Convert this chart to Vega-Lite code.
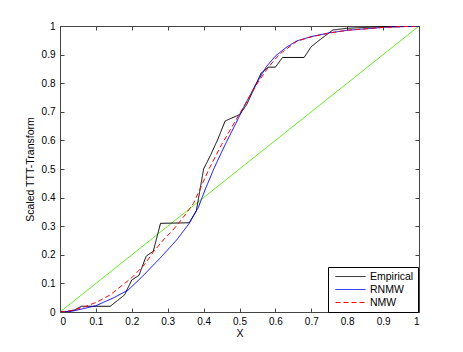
{
  "$schema": "https://vega.github.io/schema/vega-lite/v6.json",
  "width": 359,
  "height": 286,
  "autosize": {"type": "none"},
  "padding": {"left": 60, "top": 26, "right": 44, "bottom": 40},
  "background": "white",
  "config": {
    "font": "Liberation Sans",
    "view": {"stroke": "#444", "strokeWidth": 1},
    "axis": {
      "grid": false,
      "domainColor": "#444",
      "tickColor": "#444",
      "tickSize": -4,
      "labelFont": "Liberation Sans",
      "labelFontSize": 10,
      "labelColor": "#000",
      "titleFont": "Liberation Sans",
      "titleFontSize": 10.5,
      "titleFontWeight": "normal",
      "titleColor": "#000"
    },
    "legend": {
      "labelFont": "Liberation Sans",
      "labelFontSize": 10.5,
      "labelColor": "#000"
    }
  },
  "datasets": {
    "curves": [
      {"series": "Empirical", "x": 0, "y": 0},
      {"series": "Empirical", "x": 0.02, "y": 0.002},
      {"series": "Empirical", "x": 0.04, "y": 0.007},
      {"series": "Empirical", "x": 0.06, "y": 0.02},
      {"series": "Empirical", "x": 0.14, "y": 0.02},
      {"series": "Empirical", "x": 0.16, "y": 0.04},
      {"series": "Empirical", "x": 0.18, "y": 0.06},
      {"series": "Empirical", "x": 0.2, "y": 0.112},
      {"series": "Empirical", "x": 0.22, "y": 0.128},
      {"series": "Empirical", "x": 0.24, "y": 0.195},
      {"series": "Empirical", "x": 0.26, "y": 0.213},
      {"series": "Empirical", "x": 0.28, "y": 0.31},
      {"series": "Empirical", "x": 0.36, "y": 0.312},
      {"series": "Empirical", "x": 0.38, "y": 0.355},
      {"series": "Empirical", "x": 0.4, "y": 0.5},
      {"series": "Empirical", "x": 0.42, "y": 0.55},
      {"series": "Empirical", "x": 0.44, "y": 0.605},
      {"series": "Empirical", "x": 0.46, "y": 0.668},
      {"series": "Empirical", "x": 0.5, "y": 0.69},
      {"series": "Empirical", "x": 0.52, "y": 0.725},
      {"series": "Empirical", "x": 0.56, "y": 0.835},
      {"series": "Empirical", "x": 0.58, "y": 0.856},
      {"series": "Empirical", "x": 0.6, "y": 0.856},
      {"series": "Empirical", "x": 0.62, "y": 0.89},
      {"series": "Empirical", "x": 0.68, "y": 0.89},
      {"series": "Empirical", "x": 0.7, "y": 0.928},
      {"series": "Empirical", "x": 0.72, "y": 0.948},
      {"series": "Empirical", "x": 0.76, "y": 0.986},
      {"series": "Empirical", "x": 0.8, "y": 0.992},
      {"series": "Empirical", "x": 0.85, "y": 0.995},
      {"series": "Empirical", "x": 0.9, "y": 0.998},
      {"series": "Empirical", "x": 1, "y": 1},
      {"series": "RNMW", "x": 0, "y": 0},
      {"series": "RNMW", "x": 0.03, "y": 0.002},
      {"series": "RNMW", "x": 0.07, "y": 0.013},
      {"series": "RNMW", "x": 0.1, "y": 0.022},
      {"series": "RNMW", "x": 0.15, "y": 0.05},
      {"series": "RNMW", "x": 0.19, "y": 0.077},
      {"series": "RNMW", "x": 0.23, "y": 0.125},
      {"series": "RNMW", "x": 0.28, "y": 0.19},
      {"series": "RNMW", "x": 0.325, "y": 0.252},
      {"series": "RNMW", "x": 0.36, "y": 0.31},
      {"series": "RNMW", "x": 0.385, "y": 0.365},
      {"series": "RNMW", "x": 0.405, "y": 0.43},
      {"series": "RNMW", "x": 0.43, "y": 0.505},
      {"series": "RNMW", "x": 0.46, "y": 0.585},
      {"series": "RNMW", "x": 0.49, "y": 0.66},
      {"series": "RNMW", "x": 0.515, "y": 0.724},
      {"series": "RNMW", "x": 0.545, "y": 0.795},
      {"series": "RNMW", "x": 0.575, "y": 0.858},
      {"series": "RNMW", "x": 0.6, "y": 0.895},
      {"series": "RNMW", "x": 0.63, "y": 0.925},
      {"series": "RNMW", "x": 0.66, "y": 0.948},
      {"series": "RNMW", "x": 0.7, "y": 0.963},
      {"series": "RNMW", "x": 0.75, "y": 0.976},
      {"series": "RNMW", "x": 0.8, "y": 0.985},
      {"series": "RNMW", "x": 0.9, "y": 0.995},
      {"series": "RNMW", "x": 1, "y": 1},
      {"series": "NMW", "x": 0, "y": 0},
      {"series": "NMW", "x": 0.02, "y": 0.002},
      {"series": "NMW", "x": 0.045, "y": 0.009},
      {"series": "NMW", "x": 0.075, "y": 0.021},
      {"series": "NMW", "x": 0.105, "y": 0.036},
      {"series": "NMW", "x": 0.14, "y": 0.06},
      {"series": "NMW", "x": 0.17, "y": 0.09},
      {"series": "NMW", "x": 0.2, "y": 0.12},
      {"series": "NMW", "x": 0.235, "y": 0.165},
      {"series": "NMW", "x": 0.26, "y": 0.21},
      {"series": "NMW", "x": 0.29, "y": 0.255},
      {"series": "NMW", "x": 0.31, "y": 0.28},
      {"series": "NMW", "x": 0.33, "y": 0.31},
      {"series": "NMW", "x": 0.353, "y": 0.347},
      {"series": "NMW", "x": 0.372, "y": 0.38},
      {"series": "NMW", "x": 0.39, "y": 0.43},
      {"series": "NMW", "x": 0.415, "y": 0.5},
      {"series": "NMW", "x": 0.45, "y": 0.585},
      {"series": "NMW", "x": 0.485, "y": 0.66},
      {"series": "NMW", "x": 0.515, "y": 0.725},
      {"series": "NMW", "x": 0.55, "y": 0.8},
      {"series": "NMW", "x": 0.58, "y": 0.855},
      {"series": "NMW", "x": 0.61, "y": 0.9},
      {"series": "NMW", "x": 0.66, "y": 0.947},
      {"series": "NMW", "x": 0.7, "y": 0.962},
      {"series": "NMW", "x": 0.75, "y": 0.975},
      {"series": "NMW", "x": 0.8, "y": 0.985},
      {"series": "NMW", "x": 0.9, "y": 0.995},
      {"series": "NMW", "x": 1, "y": 1}
    ],
    "diagonal": [
      {"x": 0, "y": 0},
      {"x": 1, "y": 1}
    ]
  },
  "layer": [
    {
      "data": {"name": "diagonal"},
      "mark": {"type": "line", "color": "#66ee22", "strokeWidth": 1, "clip": true},
      "encoding": {
        "x": {
          "field": "x", "type": "quantitative",
          "scale": {"domain": [0, 1], "nice": false, "zero": false},
          "axis": {"orient": "top", "labels": false, "title": null, "values": [0,0.1,0.2,0.3,0.4,0.5,0.6,0.7,0.8,0.9,1]}
        },
        "y": {
          "field": "y", "type": "quantitative",
          "scale": {"domain": [0, 1], "nice": false, "zero": false},
          "axis": {"orient": "right", "labels": false, "title": null, "values": [0,0.1,0.2,0.3,0.4,0.5,0.6,0.7,0.8,0.9,1]}
        }
      }
    },
    {
      "data": {"name": "curves"},
      "mark": {"type": "line", "strokeWidth": 1, "clip": true},
      "encoding": {
        "x": {
          "field": "x", "type": "quantitative",
          "scale": {"domain": [0, 1], "nice": false, "zero": false},
          "axis": {"orient": "bottom", "title": "X", "format": "~g", "labelPadding": 8, "titlePadding": 2, "values": [0,0.1,0.2,0.3,0.4,0.5,0.6,0.7,0.8,0.9,1]}
        },
        "y": {
          "field": "y", "type": "quantitative",
          "scale": {"domain": [0, 1], "nice": false, "zero": false},
          "axis": {"orient": "left", "title": "Scaled TTT-Transform", "format": "~g", "labelPadding": 9, "titlePadding": 6, "values": [0,0.1,0.2,0.3,0.4,0.5,0.6,0.7,0.8,0.9,1]}
        },
        "color": {
          "field": "series", "type": "nominal",
          "scale": {"domain": ["Empirical", "RNMW", "NMW"], "range": ["#000000", "#0000ff", "#ff0000"]},
          "legend": {
            "title": null,
            "orient": "none",
            "legendX": 268,
            "legendY": 241,
            "direction": "vertical",
            "symbolType": "M-3,0H3",
            "symbolSize": 100,
            "symbolStrokeWidth": 1,
            "symbolOffset": 13,
            "strokeColor": "#000",
            "fillColor": "#fff",
            "padding": 4,
            "rowPadding": 2,
            "labelOffset": 14,
            "cornerRadius": 0
          }
        },
        "strokeDash": {
          "field": "series", "type": "nominal",
          "scale": {"domain": ["Empirical", "RNMW", "NMW"], "range": [[1, 0], [1, 0], [5, 3]]},
          "legend": {
            "title": null,
            "orient": "none",
            "legendX": 268,
            "legendY": 241,
            "direction": "vertical",
            "symbolType": "M-3,0H3",
            "symbolSize": 100,
            "symbolStrokeWidth": 1,
            "symbolOffset": 13,
            "strokeColor": "#000",
            "fillColor": "#fff",
            "padding": 4,
            "rowPadding": 2,
            "labelOffset": 14,
            "cornerRadius": 0
          }
        }
      }
    }
  ],
  "resolve": {"axis": {"x": "independent", "y": "independent"}}
}
